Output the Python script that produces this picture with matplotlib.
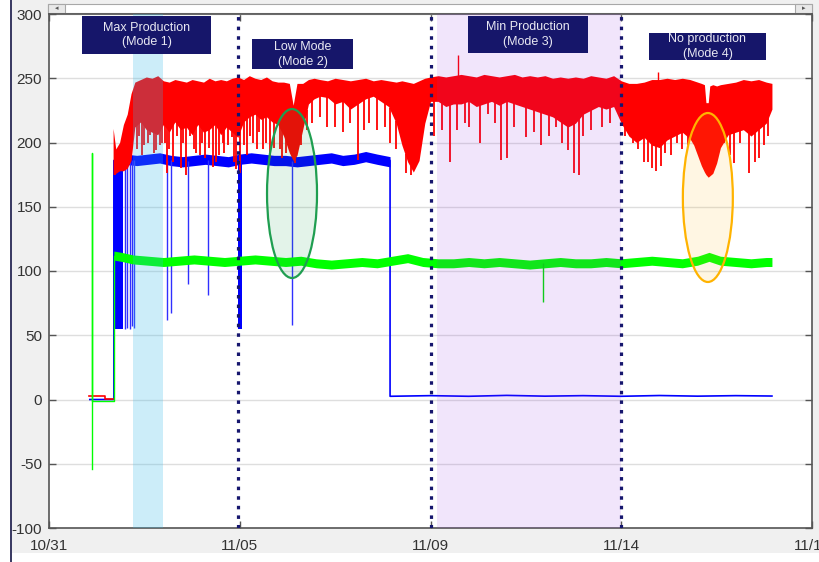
import numpy as np
import matplotlib.pyplot as plt
from matplotlib.patches import Ellipse, Rectangle

plt.rcParams['axes.unicode_minus'] = False

# x axis in plot units: 0 = 10/31, one tick every 5 units
tick_pos = [0, 5, 10, 15, 20]
tick_labels = ['10/31', '11/05', '11/09', '11/14', '11/19']
y_ticks = [-100, -50, 0, 50, 100, 150, 200, 250, 300]

# red series: dense band (upper / lower envelope)
red_x = [1.68, 1.75, 1.85, 1.95, 2.05, 2.15, 2.25, 2.40, 2.55, 2.70, 2.85, 3.00, 3.15, 3.30,
         3.45, 3.60, 3.75, 3.90, 4.05, 4.20, 4.35, 4.50, 4.65, 4.80, 4.95, 5.10, 5.25, 5.40,
         5.55, 5.70, 5.85, 6.00, 6.15, 6.30, 6.40, 6.50, 6.65, 6.80, 6.95, 7.10, 7.30, 7.50,
         7.70, 7.90, 8.10, 8.30, 8.50, 8.70, 8.90, 9.10, 9.25, 9.40, 9.55, 9.70, 9.85, 10.00,
         10.20, 10.40, 10.60, 10.80, 11.00, 11.20, 11.40, 11.60, 11.80, 12.00, 12.20, 12.40,
         12.60, 12.80, 13.00, 13.20, 13.40, 13.60, 13.80, 14.00, 14.20, 14.40, 14.60, 14.80,
         15.00, 15.20, 15.40, 15.60, 15.80, 16.00, 16.20, 16.40, 16.60, 16.80, 16.90, 17.00,
         17.10, 17.18, 17.22, 17.28, 17.32, 17.40, 17.50, 17.60, 17.80, 18.00, 18.20, 18.40,
         18.60, 18.80, 18.95]
red_hi = [211, 195, 200, 214, 222, 238, 247, 249, 251, 250, 252, 248, 247, 249,
          248, 247, 249, 248, 247, 250, 248, 249, 248, 250, 251, 249, 252, 250,
          249, 251, 248, 247, 247, 246, 229, 246, 246, 249, 250, 249, 248, 250,
          249, 248, 249, 250, 248, 249, 248, 247, 248, 247, 246, 248, 250, 251,
          252, 251, 252, 253, 252, 251, 253, 252, 251, 252, 253, 251,
          252, 251, 252, 250, 251, 250, 251, 250, 252, 251, 250, 252,
          248, 246, 246, 247, 249, 249, 250, 249, 250, 249, 248, 247,
          246, 245, 231, 231, 244, 245, 244, 245, 246, 247, 249, 248,
          249, 247, 246]
red_lo = [175, 176, 178, 178, 180, 186, 212, 216, 210, 208, 206, 214, 208, 216,
          210, 212, 206, 214, 208, 210, 214, 206, 212, 208, 204, 216, 220, 222,
          218, 220, 216, 214, 205, 192, 186, 190, 210, 230, 234, 236, 235, 230,
          232, 226, 230, 234, 236, 232, 228, 215, 198, 185, 177, 186, 215, 232,
          232, 228, 230, 230, 232, 228, 230, 232, 229, 232, 230, 228,
          226, 224, 222, 220, 216, 212, 215, 222, 225, 228, 226, 228,
          215, 205, 200, 204, 198, 196, 202, 205, 208, 203, 198, 190,
          182, 177, 175, 173, 174, 176, 184, 196, 206, 208, 210, 205,
          210, 215, 226]
red_spike_x = [1.72, 2.30, 2.35, 2.45, 2.50, 2.60, 2.65, 2.75, 2.80, 2.90, 2.95, 3.05, 3.10,
               3.15, 3.25, 3.35, 3.45, 3.50, 3.60, 3.70, 3.80, 3.85, 3.95, 4.00, 4.10, 4.20,
               4.30, 4.38, 4.45, 4.55, 4.60, 4.70, 4.80, 4.85, 4.90, 5.00, 5.10, 5.20, 5.28,
               5.35, 5.45, 5.50, 5.60, 5.70, 5.80, 5.90, 6.05, 6.10, 6.20, 6.45, 6.60, 6.75,
               6.90, 7.10, 7.30, 7.50, 7.70, 7.90, 8.10, 8.25, 8.40, 8.60, 8.80, 8.95, 9.10,
               9.35, 9.50, 10.10, 10.30, 10.50, 10.70, 10.90, 11.00, 11.30, 11.50, 11.70,
               11.85, 12.00, 12.20, 12.50, 12.70, 12.90, 13.10, 13.30, 13.45, 13.60, 13.75,
               13.90, 14.00, 14.20, 14.50, 14.70, 15.10, 15.30, 15.45, 15.60, 15.70, 15.80,
               15.90, 16.05, 16.15, 16.30, 16.45, 16.60, 16.75, 17.70, 17.85, 17.95, 18.10,
               18.35, 18.50, 18.60, 18.75, 18.85]
red_spike_y = [175, 195, 205, 190, 198, 200, 206, 192, 194, 198, 200, 200, 176,
               195, 185, 205, 180, 200, 175, 205, 195, 192, 190, 200, 188, 196,
               181, 185, 190, 200, 192, 198, 204, 185, 179, 176, 198, 190, 205,
               200, 195, 208, 195, 200, 188, 196, 195, 188, 192, 184, 198, 210,
               215, 220, 212, 212, 208, 215, 186, 210, 215, 210, 212, 200, 195,
               176, 175, 205, 210, 185, 210, 215, 212, 200, 222, 215,
               186, 188, 212, 204, 208, 198, 205, 212, 200, 194, 176,
               175, 205, 210, 212, 215, 205, 200, 195, 185, 185, 180,
               178, 182, 192, 190, 200, 195, 198, 200, 190, 184, 200,
               176, 185, 188, 198, 205]
red_up_x = [10.72, 15.96]
red_up_y = [268, 255]
red_pre_x = [1.05, 1.47, 1.47, 1.68]
red_pre_y = [2.5, 2.5, 0.5, 0.5]

# blue series
blue_x = [1.70, 2.0, 2.3, 2.6, 2.9, 3.2, 3.5, 3.8, 4.1, 4.4, 4.7, 5.0, 5.3, 5.6, 5.9,
          6.2, 6.5, 6.8, 7.1, 7.4, 7.7, 8.0, 8.3, 8.6, 8.94]
blue_mid = [188, 187, 186, 187, 188, 186, 185, 186, 187, 186, 185, 187, 188, 187, 186,
            186, 185, 186, 187, 188, 186, 187, 189, 187, 185]
blue_low_x = [1.07, 1.70, 1.70, 8.94, 8.94, 10.0, 11.0, 12.0, 13.0, 14.0, 15.0, 16.0, 17.0, 18.0, 18.95]
blue_low_y = [0, 0, 186, 186, 2.5, 3.0, 2.5, 3.2, 2.6, 3.0, 2.5, 3.1, 2.6, 3.0, 2.7]
blue_block = [(1.70, 1.95), (4.96, 5.06)]
blue_spike_x = [2.00, 2.05, 2.12, 2.18, 2.22, 3.09, 3.20, 3.64, 4.17, 6.37]
blue_spike_y = [55, 56, 55, 57, 56, 62, 67, 90, 81, 58]

# green series
green_x = [1.70, 1.9, 2.2, 2.6, 3.0, 3.4, 3.8, 4.2, 4.6, 5.0, 5.4, 5.8, 6.2, 6.6, 7.0, 7.4,
           7.8, 8.2, 8.6, 9.0, 9.4, 9.8, 10.2, 10.6, 11.0, 11.4, 11.8, 12.2, 12.6, 13.0,
           13.4, 13.8, 14.2, 14.6, 15.0, 15.4, 15.8, 16.2, 16.6, 17.0, 17.3, 17.6, 18.0,
           18.4, 18.8, 18.95]
green_mid = [112, 111, 109, 108, 107, 108, 109, 108, 107, 108, 109, 108, 107, 108, 106, 105,
             106, 107, 106, 108, 110, 107, 106, 106, 107, 106, 107, 106, 105, 106,
             107, 106, 106, 107, 106, 107, 108, 107, 106, 108, 111, 108, 107,
             106, 107, 107]
green_pre_x = [1.13, 1.13, 1.13, 1.70, 1.70]
green_pre_y = [-54, 192, -1, -1, 112]
green_spike_x = [12.95]
green_spike_y = [76]

# annotations
modes = ['Max Production\n(Mode 1)', 'Low Mode\n(Mode 2)',
         'Min Production\n(Mode 3)', 'No production\n(Mode 4)']
mode_boxes = [(0.865, 268.9, 3.38, 29.5), (5.31, 257.0, 2.67, 23.3),
              (10.98, 269.9, 3.15, 28.5), (15.73, 264.2, 3.06, 21.0)]
dotted_x = [4.96, 10.0, 15.0]

fig = plt.figure(figsize=(8.2, 5.62), dpi=100, facecolor='white')
fig.patches.append(Rectangle((12 / 820, 9 / 562), 808 / 820, 553 / 562, transform=fig.transFigure,
                             facecolor='#f0f0f0', edgecolor='none', zorder=-10))
fig.patches.append(Rectangle((10 / 820, 0), 2.5 / 820, 1, transform=fig.transFigure,
                             facecolor='#3c3c64', edgecolor='none', zorder=-5))
# scrollbar strip at the top
fig.patches.append(Rectangle((48 / 820, 1 - 13 / 562), 764 / 820, 9 / 562, transform=fig.transFigure,
                             facecolor='white', edgecolor='#a8a8a8', lw=0.8, zorder=-5))
for bx in [48, 795]:
    fig.patches.append(Rectangle((bx / 820, 1 - 13 / 562), 17 / 820, 9 / 562, transform=fig.transFigure,
                                 facecolor='#e8e8e8', edgecolor='#a8a8a8', lw=0.8, zorder=-4))
fig.text(56.5 / 820, 1 - 8.5 / 562, '\u25c2', fontsize=5, ha='center', va='center', color='#555555')
fig.text(803.5 / 820, 1 - 8.5 / 562, '\u25b8', fontsize=5, ha='center', va='center', color='#555555')

ax = fig.add_axes([49 / 820, 34 / 562, 763 / 820, 514 / 562])
ax.set_zorder(5)
ax.set_facecolor('white')
ax.set_xlim(0, 20)
ax.set_ylim(-100, 300)

# blue
for a, b in blue_block:
    ax.fill_between([a, b], [55, 55], [186, 186], color='blue', lw=0, zorder=2)
ax.plot(blue_low_x, blue_low_y, color='blue', lw=1.2, zorder=2)
ax.fill_between(blue_x, np.array(blue_mid) - 4, np.array(blue_mid) + 4, color='blue', lw=0, zorder=2)
ax.vlines(blue_spike_x, blue_spike_y, np.interp(blue_spike_x, blue_x, blue_mid), color='#3030ff',
          lw=1.0, zorder=2)

# red
ax.plot(red_pre_x, red_pre_y, color='red', lw=1.2, zorder=3)
ax.fill_between(red_x, red_lo, red_hi, color='red', lw=0, zorder=3)
ax.vlines(red_spike_x, red_spike_y, np.interp(red_spike_x, red_x, red_lo) + 2, color='red', lw=1.3, zorder=3)
ax.vlines(red_up_x, np.interp(red_up_x, red_x, red_hi) - 2, red_up_y, color='red', lw=1.0, zorder=3)

# green
ax.plot(green_pre_x, green_pre_y, color='#00ff00', lw=1.0, zorder=4)
ax.fill_between(green_x, np.array(green_mid) - 3.5, np.array(green_mid) + 3.5, color='#00ff00', lw=0, zorder=4)
ax.vlines(green_spike_x, green_spike_y, np.interp(green_spike_x, green_x, green_mid), color='#00e000',
          lw=1.0, zorder=4)

# shaded modes
ax.axvspan(2.21, 2.99, color=(55 / 255, 187 / 255, 235 / 255), alpha=0.25, lw=0, zorder=5)
ax.axvspan(10.17, 15.0, color=(147 / 255, 47 / 255, 230 / 255), alpha=0.12, lw=0, zorder=5)

ax.add_patch(Ellipse((6.37, 160.3), 1.31, 131.5, facecolor=(30 / 255, 160 / 255, 80 / 255, 0.12),
                     edgecolor='#1f9e50', lw=1.6, zorder=6))
ax.add_patch(Ellipse((17.27, 157.2), 1.31, 131.5, facecolor=(1, 0.72, 0.1, 0.12),
                     edgecolor='#ffb300', lw=1.6, zorder=6))

for xd in dotted_x:
    ax.axvline(xd, color='#16166e', lw=2.3, linestyle=(0, (1.1, 1.9)), zorder=7)

for (x0, y0, w, h), label in zip(mode_boxes, modes):
    ax.add_patch(Rectangle((x0, y0), w, h, facecolor='#16166a', edgecolor='none', zorder=8))
    ax.text(x0 + w / 2, y0 + h / 2, label, ha='center', va='center', fontsize=9,
            family='Liberation Sans', color='#e8e8f2', linespacing=1.3, zorder=9)

ax.set_xticks(tick_pos, tick_labels)
ax.set_yticks(y_ticks)
ax.yaxis.grid(True, color='#dedede', lw=1.0)
ax.set_axisbelow(True)
ax.tick_params(direction='in', length=5, width=1, top=True, right=True, color='#555555',
               labelcolor='#333333', labelsize=11)
ax.tick_params(axis='x', pad=8)
ax.tick_params(axis='y', pad=5)
for lab in ax.get_xticklabels() + ax.get_yticklabels():
    lab.set_family('Liberation Sans')
for sp in ax.spines.values():
    sp.set_color('#555555')
    sp.set_linewidth(1.2)

fig.savefig('out.png', dpi=100)
